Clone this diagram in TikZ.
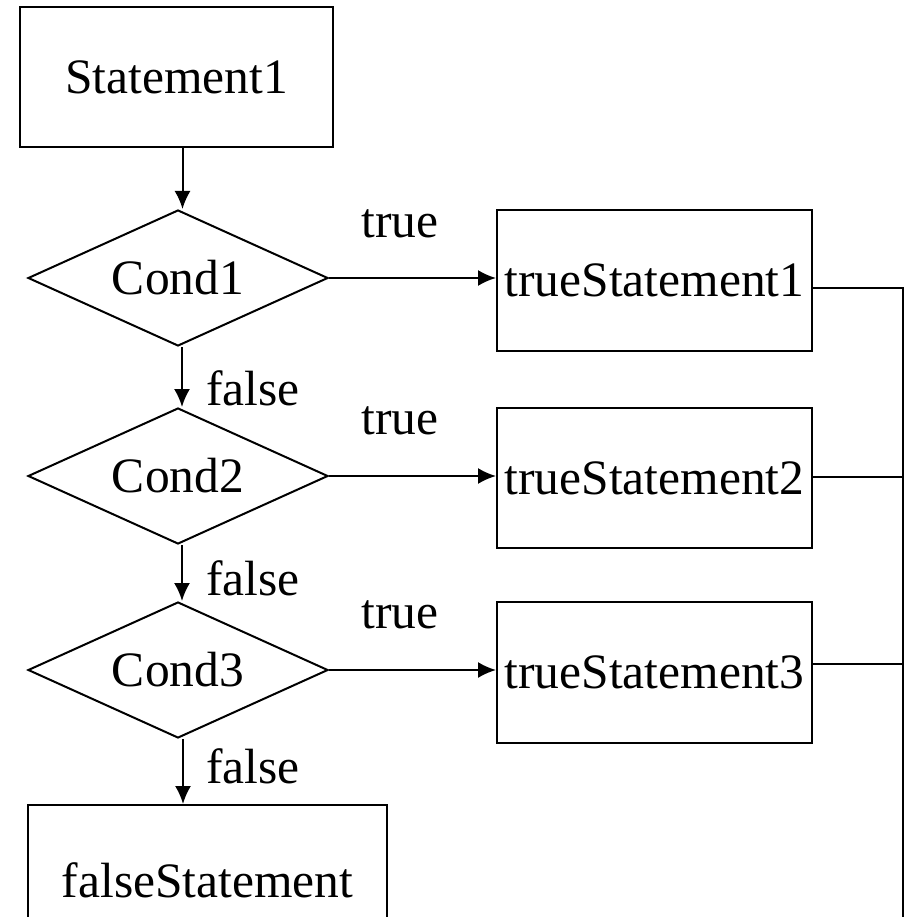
\documentclass[tikz,border=0pt]{standalone}
\usepackage{fontspec}
\setmainfont{Liberation Serif}
\usetikzlibrary{shapes.geometric,arrows.meta}
\begin{document}
\begin{tikzpicture}[x=1pt, y=-1pt, >={Latex[length=18pt,width=16pt]},
    every node/.style = {font=\fontsize{49.5}{58}\selectfont},
    box/.style = {draw, line width=2pt, inner sep=0pt},
    cond/.style = {draw, diamond, aspect=2.2, line width=2pt, inner sep=0pt,
        minimum width=300pt, minimum height=136pt},
    flow/.style = {line width=2pt}]
    \clip (0, 0) rectangle (906, 917);
    % main column
    \node[box, minimum width=313pt, minimum height=140pt] (s1) at (176.5, 77) {Statement1};
    \node[cond] (cond1) at (178, 278) {Cond1};
    \node[cond] (cond2) at (178, 476) {Cond2};
    \node[cond] (cond3) at (178, 670) {Cond3};
    \node[box, minimum width=359pt, minimum height=150pt] (fs) at (207.5, 880) {falseStatement};
    % true branches
    \node[box, minimum width=315pt, minimum height=141pt] (t1) at (654.5, 280.5) {trueStatement1};
    \node[box, minimum width=315pt, minimum height=140pt] (t2) at (654.5, 478) {trueStatement2};
    \node[box, minimum width=315pt, minimum height=141pt] (t3) at (654.5, 672.5) {trueStatement3};
    \coordinate (bus) at (903, 940);
    % labels
    \node[anchor=base] (true1) at (400, 237) {true};
    \node[anchor=base] (true2) at (400, 434) {true};
    \node[anchor=base] (true3) at (400, 628) {true};
    \node[anchor=base west, inner sep=0pt] (false1) at (206, 405) {false};
    \node[anchor=base west, inner sep=0pt] (false2) at (206, 595) {false};
    \node[anchor=base west, inner sep=0pt] (false3) at (206, 783) {false};
    % connectors
    \draw[flow, ->] ([xshift=6pt]s1.south) -- ([xshift=6pt]s1.south |- cond1.north);
    \draw[flow, ->] ([xshift=4pt]cond1.south) -- ([xshift=4pt]cond2.north);
    \draw[flow, ->] ([xshift=4pt]cond2.south) -- ([xshift=4pt]cond3.north);
    \draw[flow, ->] ([xshift=5pt]cond3.south) -- ([xshift=5pt]cond3.south |- fs.north);
    \draw[flow, ->] (cond1.east) -- (cond1.east -| t1.west);
    \draw[flow, ->] (cond2.east) -- (cond2.east -| t2.west);
    \draw[flow, ->] (cond3.east) -- (cond3.east -| t3.west);
    \draw[flow] ([yshift=-7.5pt]t1.east) -| (bus);
    \draw[flow] ([yshift=1pt]t2.east) -- ([yshift=1pt]t2.east -| bus);
    \draw[flow] ([yshift=8.5pt]t3.east) -- ([yshift=8.5pt]t3.east -| bus);
\end{tikzpicture}
\end{document}
